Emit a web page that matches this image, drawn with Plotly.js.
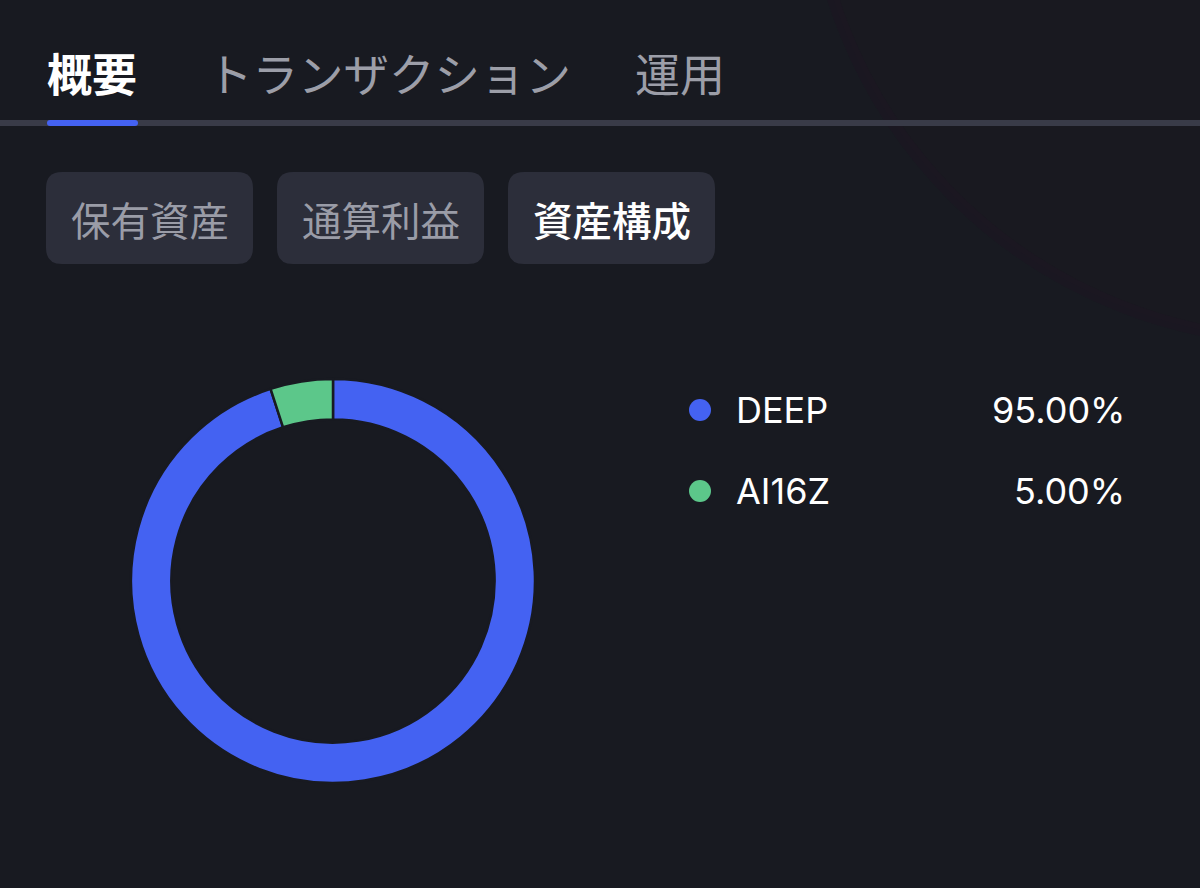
<!DOCTYPE html>
<html>
<head>
<meta charset="utf-8">
<script src="https://cdn.plot.ly/plotly-3.0.1.min.js"></script>
<style>
  html, body { margin: 0; padding: 0; background: #181a21; }
  #chart { width: 1200px; height: 888px; }
</style>
</head>
<body>
<div id="chart"></div>
<script>
// ---- data ----
const assets = ["DEEP", "AI16Z"];
const shares = [95.00, 5.00];
const assetColors = ["#4462F2", "#5CC78A"];
const tabLabels = ["概要", "トランザクション", "運用"];
const buttonLabels = ["保有資産", "通算利益", "資産構成"];

// ---- helpers (pixel -> paper) ----
const W = 1200, H = 888;
const px = x => x / W;
const py = y => 1 - y / H;

const BG = "#181a21";
const JP = "Noto Sans CJK JP, Noto Sans, sans-serif";
const LAT = "Inter, Noto Sans, sans-serif";

const shapes = [];
const annotations = [];

// faint decorative arc top-right
shapes.push({
  type: "circle", xref: "paper", yref: "paper",
  x0: px(810), x1: px(1790), y0: py(-640), y1: py(340),
  line: { color: "rgba(30,22,34,0.55)", width: 12 },
  fillcolor: "rgba(26,22,32,0.25)", layer: "below"
});

// tabs
const tabX = [47, 207, 635];
const tabSize = [45, 45.5, 45];
tabLabels.forEach((t, i) => {
  annotations.push({
    xref: "paper", yref: "paper", x: px(tabX[i] - 2), y: py(72),
    xanchor: "left", yanchor: "middle", showarrow: false,
    text: t,
    font: { family: JP, size: tabSize[i], color: i === 0 ? "#ffffff" : "#9c9ea8", weight: i === 0 ? 700 : 400 }
  });
});
// divider
shapes.push({
  type: "rect", xref: "paper", yref: "paper",
  x0: 0, x1: 1, y0: py(126), y1: py(120),
  fillcolor: "#393b48", line: { width: 0 }
});
// active underline
shapes.push({
  type: "path", xref: "paper", yref: "paper",
  path: `M ${px(50)} ${py(120)} L ${px(135)} ${py(120)} Q ${px(138)} ${py(120)} ${px(138)} ${py(123)} Q ${px(138)} ${py(126)} ${px(135)} ${py(126)} L ${px(50)} ${py(126)} Q ${px(47)} ${py(126)} ${px(47)} ${py(123)} Q ${px(47)} ${py(120)} ${px(50)} ${py(120)} Z`,
  fillcolor: "#4462F2", line: { width: 0 }
});

// buttons
const btnX = [46, 277, 508];
const btnW = 207, btnTop = 172, btnBot = 264, r = 16;
function roundRect(x0, y0, x1, y1, rr) {
  return `M ${px(x0 + rr)} ${py(y0)} L ${px(x1 - rr)} ${py(y0)} Q ${px(x1)} ${py(y0)} ${px(x1)} ${py(y0 + rr)} ` +
    `L ${px(x1)} ${py(y1 - rr)} Q ${px(x1)} ${py(y1)} ${px(x1 - rr)} ${py(y1)} ` +
    `L ${px(x0 + rr)} ${py(y1)} Q ${px(x0)} ${py(y1)} ${px(x0)} ${py(y1 - rr)} ` +
    `L ${px(x0)} ${py(y0 + rr)} Q ${px(x0)} ${py(y0)} ${px(x0 + rr)} ${py(y0)} Z`;
}
buttonLabels.forEach((t, i) => {
  shapes.push({
    type: "path", xref: "paper", yref: "paper",
    path: roundRect(btnX[i], btnTop, btnX[i] + btnW, btnBot, r),
    fillcolor: "#2c2e3a", line: { width: 0 }
  });
  annotations.push({
    xref: "paper", yref: "paper", x: px(btnX[i] + btnW / 2), y: py(218),
    xanchor: "center", yanchor: "middle", showarrow: false,
    text: t,
    font: { family: JP, size: 39.5, color: i === 2 ? "#ffffff" : "#9a9ca7", weight: i === 2 ? 500 : 400 }
  });
});

// legend (custom, from data)
const legY = [410, 491];
assets.forEach((a, i) => {
  shapes.push({
    type: "circle", xref: "paper", yref: "paper",
    x0: px(689), x1: px(711), y0: py(legY[i] + 11), y1: py(legY[i] - 11),
    fillcolor: assetColors[i], line: { width: 0 }
  });
  annotations.push({
    xref: "paper", yref: "paper", x: px(734), y: py(legY[i]),
    xanchor: "left", yanchor: "middle", showarrow: false,
    text: a, font: { family: LAT, size: 36, color: "#ffffff" }
  });
  annotations.push({
    xref: "paper", yref: "paper", x: px(1127), y: py(legY[i]),
    xanchor: "right", yanchor: "middle", showarrow: false,
    text: shares[i].toFixed(2) + "%", font: { family: LAT, size: 36, color: "#ffffff" }
  });
});

const trace = {
  type: "pie",
  labels: assets,
  values: shares,
  marker: { colors: assetColors, line: { color: BG, width: 2.5 } },
  hole: 0.8,
  sort: false,
  direction: "clockwise",
  rotation: 0,
  textinfo: "none",
  hoverinfo: "label+percent",
  showlegend: false,
  domain: { x: [px(131), px(535)], y: [py(783), py(379)] }
};

const layout = {
  width: W, height: H,
  margin: { l: 0, r: 0, t: 0, b: 0 },
  paper_bgcolor: BG,
  plot_bgcolor: BG,
  showlegend: false,
  shapes: shapes,
  annotations: annotations
};

Plotly.newPlot("chart", [trace], layout, { displayModeBar: false, staticPlot: true });
</script>
</body>
</html>
